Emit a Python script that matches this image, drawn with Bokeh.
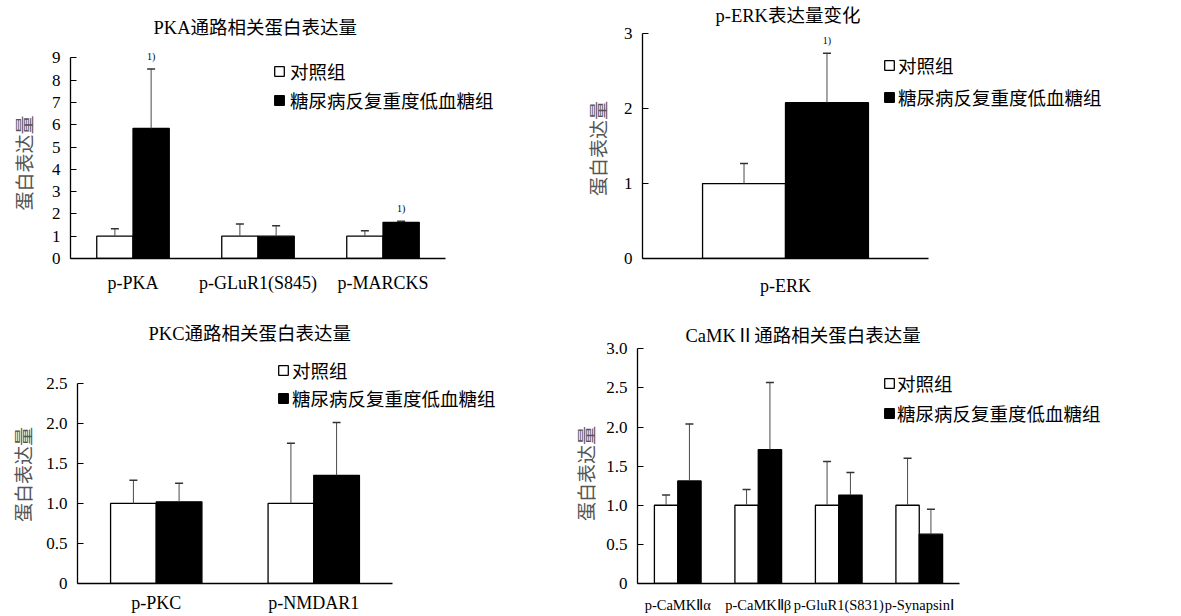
from bokeh.plotting import figure
from bokeh.models import (Range1d, FixedTicker, Legend, LegendItem, Whisker, TeeHead,
                          ColumnDataSource, Label, Title)
from bokeh.layouts import row, column
from bokeh.embed import file_html
from bokeh.resources import INLINE

FONT = "Liberation Serif, Noto Sans CJK SC"
FONT_LATIN = "Liberation Serif"

group_names = ["对照组", "糖尿病反复重度低血糖组"]
y_axis_label = "蛋白表达量"
sig_mark = "1)"

# PKA panel
pka_title = "PKA通路相关蛋白表达量"
pka_categories = ["p-PKA", "p-GLuR1(S845)", "p-MARCKS"]
pka_control = [1.0, 1.0, 1.0]
pka_control_sd = [0.33, 0.55, 0.24]
pka_dm = [5.83, 1.0, 1.62]
pka_dm_sd = [2.67, 0.47, 0.05]
pka_sig = [True, False, True]
pka_ticks = [0, 1, 2, 3, 4, 5, 6, 7, 8, 9]
pka_tick_labels = ["0", "1", "2", "3", "4", "5", "6", "7", "8", "9"]

# ERK panel
erk_title = "p-ERK表达量变化"
erk_categories = ["p-ERK"]
erk_control = [1.0]
erk_control_sd = [0.27]
erk_dm = [2.08]
erk_dm_sd = [0.66]
erk_sig = [True]
erk_ticks = [0, 1, 2, 3]
erk_tick_labels = ["0", "1", "2", "3"]

# PKC panel
pkc_title = "PKC通路相关蛋白表达量"
pkc_categories = ["p-PKC", "p-NMDAR1"]
pkc_control = [1.0, 1.0]
pkc_control_sd = [0.29, 0.75]
pkc_dm = [1.02, 1.35]
pkc_dm_sd = [0.23, 0.66]
pkc_sig = [False, False]
pkc_ticks = [0, 0.5, 1.0, 1.5, 2.0, 2.5]
pkc_tick_labels = ["0", "0.5", "1.0", "1.5", "2.0", "2.5"]

# CaMKII panel
camk_title = "CaMKⅡ通路相关蛋白表达量"
camk_categories = ["p-CaMKⅡα", "p-CaMKⅡβ", "p-GluR1(S831)", "p-SynapsinⅠ"]
camk_control = [1.0, 1.0, 1.0, 1.0]
camk_control_sd = [0.13, 0.20, 0.56, 0.60]
camk_dm = [1.31, 1.71, 1.13, 0.63]
camk_dm_sd = [0.73, 0.86, 0.29, 0.32]
camk_sig = [False, False, False, False]
camk_ticks = [0, 0.5, 1.0, 1.5, 2.0, 2.5, 3.0]
camk_tick_labels = ["0", "0.5", "1.0", "1.5", "2.0", "2.5", "3.0"]

BAR_W = 0.29
LEG_ROW_H = 28


def make_panel(title, cats, ctrl, ctrl_sd, dm, dm_sd, sig, ticks, tick_labels, g):
    n = len(cats)
    W, H = g["size"]
    left = g["axis_left"]
    bottom_border = H - g["axis_bottom"]
    frame_w = W - left
    frame_h = g["axis_bottom"]
    axis_px = g["axis_bottom"] - g["axis_top"]
    x_end = -0.5 + n * frame_w / g["cat_px"]
    y_end = ticks[-1] * frame_h / axis_px

    p = figure(width=W, height=H, x_range=Range1d(-0.5, x_end),
               y_range=Range1d(ticks[0], y_end),
               toolbar_location=None, output_backend="svg", tools="",
               min_border_left=left, min_border_right=0,
               min_border_top=0, min_border_bottom=bottom_border)
    p.title.text = ""
    p.title.visible = False
    p.outline_line_color = None
    p.xgrid.visible = False
    p.ygrid.visible = False
    p.background_fill_color = "white"
    p.border_fill_color = "white"

    xs = list(range(n))
    xc = [i - BAR_W / 2 for i in xs]
    xd = [i + BAR_W / 2 for i in xs]

    r_ctrl = p.vbar(x=xc, top=ctrl, bottom=0, width=BAR_W, fill_color="white",
                    line_color="black", line_width=1.3)
    r_dm = p.vbar(x=xd, top=dm, bottom=0, width=BAR_W, fill_color="black",
                  line_color="black", line_width=1.3)

    for xv, vals, sds in ((xc, ctrl, ctrl_sd), (xd, dm, dm_sd)):
        src = ColumnDataSource(dict(base=xv, lower=vals,
                                    upper=[v + s for v, s in zip(vals, sds)]))
        w = Whisker(base="base", lower="lower", upper="upper", source=src,
                    dimension="height", line_color="#4a4a4a", line_width=1,
                    upper_head=TeeHead(size=8, line_color="#333333", line_width=1.5),
                    lower_head=None, level="overlay")
        p.add_layout(w)

    for i in xs:
        if sig[i]:
            p.add_layout(Label(x=xd[i], y=dm[i] + dm_sd[i], y_offset=7, text=sig_mark,
                               text_align="center", text_baseline="bottom",
                               text_font=FONT_LATIN, text_font_size="10px",
                               text_color="black"))

    # chart title, placed inside the (extended) frame
    tx, ty = g["title_pos"]
    p.add_layout(Label(x=tx - left, y=frame_h - ty, x_units="screen", y_units="screen",
                       text=title, text_align="left", text_baseline="middle",
                       text_font=FONT, text_font_size="18.5px", text_color="black"))

    lx, c1, c2 = g["legend_pos"]
    sp = int(round((c2 - c1) - LEG_ROW_H))
    leg_h = LEG_ROW_H * 2 + sp
    ltop = c1 - LEG_ROW_H / 2
    legend = Legend(items=[LegendItem(label=group_names[0], renderers=[r_ctrl]),
                           LegendItem(label=group_names[1], renderers=[r_dm])],
                    location=(lx - left, frame_h - ltop - leg_h),
                    background_fill_alpha=0, border_line_alpha=0,
                    glyph_width=12, glyph_height=12, label_height=LEG_ROW_H,
                    label_text_font=FONT, label_text_font_size="18.5px",
                    label_text_color="black", spacing=sp,
                    padding=0, margin=0, label_standoff=g["legend_standoff"])
    p.add_layout(legend)

    xa = p.xaxis[0]
    xa.ticker = FixedTicker(ticks=xs)
    xa.bounds = (-0.5, n - 0.5)
    xa.major_label_overrides = {i: c for i, c in zip(xs, cats)}
    xa.major_tick_line_color = None
    xa.minor_tick_line_color = None
    xa.axis_line_width = 1.3
    xa.axis_line_color = "black"
    xa.major_label_text_font = FONT_LATIN
    xa.major_label_text_font_size = g["xlab_size"]
    xa.major_label_text_color = "black"
    xa.major_label_standoff = g["xlab_standoff"]

    ya = p.yaxis[0]
    ya.ticker = FixedTicker(ticks=ticks)
    ya.bounds = (ticks[0], ticks[-1])
    ya.major_label_overrides = {t: l for t, l in zip(ticks, tick_labels)}
    ya.major_tick_in = 6
    ya.major_tick_out = 0
    ya.major_tick_line_color = "black"
    ya.major_tick_line_width = 1.2
    ya.minor_tick_line_color = None
    ya.axis_line_width = 1.3
    ya.axis_line_color = "black"
    ya.major_label_text_font = FONT_LATIN
    ya.major_label_text_font_size = "17px"
    ya.major_label_text_color = "black"
    ya.major_label_standoff = 10

    ytitle = Title(text=y_axis_label, align="left", offset=g["ylab_offset"],
                   standoff=g["ylab_standoff"], vertical_align="bottom",
                   text_font=FONT, text_font_size="19px", text_font_style="normal",
                   text_color="#555555")
    p.add_layout(ytitle, "left")
    return p


g1 = dict(size=(568, 308), axis_left=70, axis_top=57.3, axis_bottom=258, cat_px=375,
          title_pos=(153, 27), legend_pos=(273, 71, 100), legend_standoff=5,
          xlab_size="18px", xlab_standoff=8, ylab_offset=48, ylab_standoff=25)
g2 = dict(size=(612, 308), axis_left=74, axis_top=33.3, axis_bottom=258, cat_px=286,
          title_pos=(147, 15), legend_pos=(315, 65, 97), legend_standoff=3,
          xlab_size="18px", xlab_standoff=11, ylab_offset=62.5, ylab_standoff=21)
g3 = dict(size=(568, 308), axis_left=77, axis_top=74.7, axis_bottom=275, cat_px=315,
          title_pos=(148, 25), legend_pos=(277, 62, 90), legend_standoff=3,
          xlab_size="18px", xlab_standoff=3, ylab_offset=61.5, ylab_standoff=17)
g4 = dict(size=(612, 308), axis_left=69, axis_top=40.3, axis_bottom=275, cat_px=322,
          title_pos=(117, 27), legend_pos=(315, 75, 105), legend_standoff=2,
          xlab_size="14.5px", xlab_standoff=7, ylab_offset=62.5, ylab_standoff=12)

p1 = make_panel(pka_title, pka_categories, pka_control, pka_control_sd, pka_dm, pka_dm_sd,
                pka_sig, pka_ticks, pka_tick_labels, g1)
p2 = make_panel(erk_title, erk_categories, erk_control, erk_control_sd, erk_dm, erk_dm_sd,
                erk_sig, erk_ticks, erk_tick_labels, g2)
p3 = make_panel(pkc_title, pkc_categories, pkc_control, pkc_control_sd, pkc_dm, pkc_dm_sd,
                pkc_sig, pkc_ticks, pkc_tick_labels, g3)
p4 = make_panel(camk_title, camk_categories, camk_control, camk_control_sd, camk_dm, camk_dm_sd,
                camk_sig, camk_ticks, camk_tick_labels, g4)

layout = column(row(p1, p2), row(p3, p4))

open("out.html", "w").write(file_html(layout, INLINE))
